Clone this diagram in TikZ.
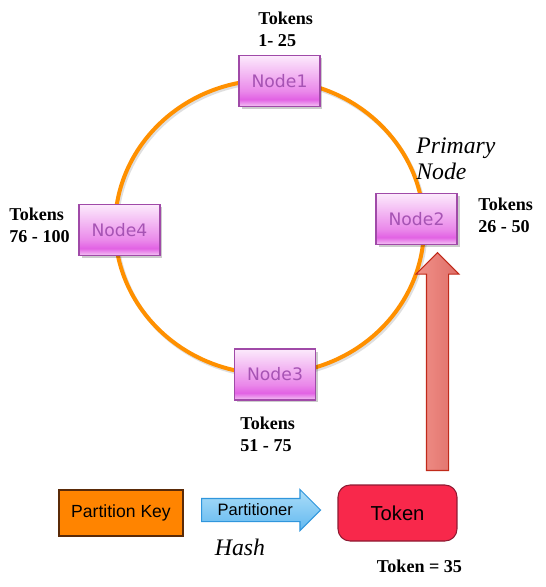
\documentclass[tikz,border=0pt]{standalone}
\usepackage{fontspec}
\newfontfamily\nodefont{DejaVu Sans}
\newfontfamily\keyfont{Liberation Sans}
\newfontfamily\tokfont{Liberation Serif}
\usetikzlibrary{shapes.arrows,shadows}

\definecolor{ringorange}{HTML}{FF9000}
\definecolor{nodeborder}{HTML}{A04AA8}
\definecolor{nodetext}{HTML}{A653B4}
\definecolor{nodelo}{HTML}{F4C6F4}
\definecolor{nodeband}{HTML}{E262E4}
\definecolor{nodemid}{HTML}{EA88EA}
\definecolor{nodetop}{HTML}{FCEAFC}
\definecolor{keyorange}{HTML}{FF8400}
\definecolor{keyborder}{HTML}{5A2A08}
\definecolor{tokred}{HTML}{F8284B}
\definecolor{tokborder}{HTML}{8E1A32}
\definecolor{partlight}{HTML}{ACDEF8}
\definecolor{partdark}{HTML}{62B8F0}
\definecolor{partborder}{HTML}{3096DC}
\definecolor{upleft}{HTML}{F2928A}
\definecolor{upright}{HTML}{DE6E68}
\definecolor{upborder}{HTML}{C02A1A}

\pgfdeclareverticalshading{nodeshade}{100bp}{color(0bp)=(nodelo); color(25bp)=(nodelo); color(32bp)=(nodeband); color(40bp)=(nodemid); color(75bp)=(nodetop); color(100bp)=(nodetop)}

\tikzset{
  ring/.style={draw=ringorange, line width=0.08cm},
  ringnode/.style={draw=nodeborder, line width=0.7pt, shading=nodeshade,
    minimum width=1.62cm, minimum height=1.02cm, inner sep=0pt,
    font=\nodefont\fontsize{9.8}{11}\selectfont, text=nodetext,
    drop shadow={shadow xshift=0.05cm, shadow yshift=-0.05cm, fill=black, opacity=0.2}},
  toklabel/.style={anchor=north west, inner sep=0pt, align=left,
    font=\tokfont\bfseries\fontsize{10.3}{12.5}\selectfont},
  note/.style={inner sep=0pt, align=left, font=\tokfont\itshape\fontsize{13.5}{15.3}\selectfont},
  keybox/.style={draw=keyborder, line width=0.6pt, fill=keyorange,
    minimum width=2.48cm, minimum height=0.92cm, inner sep=0pt,
    font=\keyfont\fontsize{10}{12}\selectfont},
  tokbox/.style={draw=tokborder, line width=0.6pt, fill=tokred, rounded corners=0.24cm,
    minimum width=2.38cm, minimum height=1.12cm, inner sep=0pt,
    font=\keyfont\fontsize{11.5}{13}\selectfont},
  partarrow/.style={single arrow, draw=partborder, line width=0.6pt,
    top color=partlight, bottom color=partdark,
    single arrow head extend=0.18cm, single arrow tip angle=90,
    minimum height=2.38cm, inner xsep=0pt, inner ysep=0.085cm,
    text height=2.4mm, text depth=0.3mm,
    font=\keyfont\fontsize{9.4}{11}\selectfont},
  uparrow/.style={single arrow, draw=upborder, line width=0.6pt,
    left color=upleft, right color=upright, rotate=90,
    single arrow head extend=0.21cm, single arrow tip angle=90,
    minimum height=4.36cm, inner xsep=0pt, inner ysep=0.21cm}
}

\begin{document}
\begin{tikzpicture}[x=0.02cm, y=-0.02cm]
  \useasboundingbox (0,0) rectangle (545,587);

  % ring of nodes
  \draw[black!25, line width=0.08cm, opacity=0.5] (271,229) ellipse [x radius=154.5, y radius=147];
  \draw[ring] (269.5,227) ellipse [x radius=154.5, y radius=147];

  \node[ringnode] (node1) at (279.5,81)  {Node1};
  \node[ringnode] (node2) at (416.5,219) {Node2};
  \node[ringnode] (node3) at (275,374.5) {Node3};
  \node[ringnode] (node4) at (119.5,230) {Node4};

  \node[toklabel] (tok1) at (258,12)  {Tokens\\1- 25};
  \node[toklabel] (tok2) at (478,198) {Tokens\\26 - 50};
  \node[toklabel] (tok3) at (240,417) {Tokens\\51 - 75};
  \node[toklabel] (tok4) at (9,208)   {Tokens\\76 - 100};

  \node[note, anchor=north west] (primary) at (416,137) {Primary\\Node};

  % partitioning
  \node[keybox] (key) at (121,513) {Partition Key};
  \node[partarrow, anchor=tail] (part) at (201,510) {Partitioner};
  \node[note] (hash) at (240,547) {Hash};
  \node[tokbox] (token) at (397.5,513) {Token};
  \node[font=\tokfont\bfseries\fontsize{10.3}{12}\selectfont, inner sep=0pt] (tokval) at (419.5,566) {Token = 35};

  \node[uparrow, anchor=tail] (up) at (437.5,471) {};
\end{tikzpicture}
\end{document}
